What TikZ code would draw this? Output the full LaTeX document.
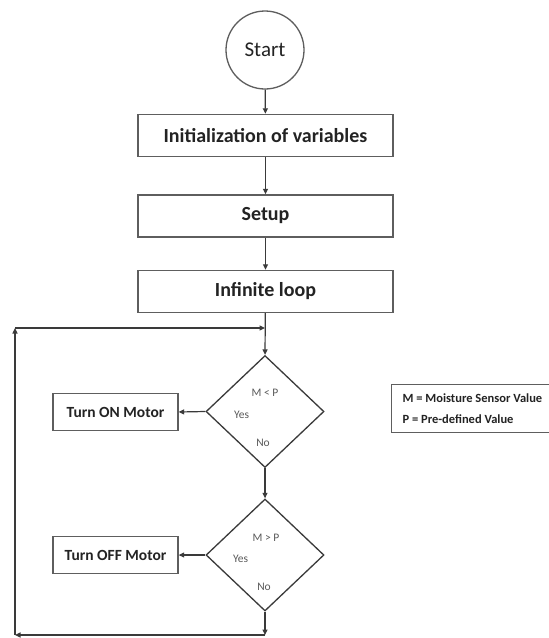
\documentclass[tikz,border=0pt]{standalone}
\usepackage{fontspec}
\setmainfont{Carlito}
\usetikzlibrary{shapes.geometric,arrows.meta,calc}

\definecolor{ink}{HTML}{232323}
\definecolor{soft}{HTML}{5A5A5A}
\definecolor{linegray}{HTML}{3A3A3A}
\definecolor{boxgray}{HTML}{5E5E5E}

\begin{document}
\begin{tikzpicture}[x=1pt,y=-1pt,
  line/.style={draw=linegray, line width=1.2pt},
  arr/.style={line, -{Triangle[length=5.5pt,width=5pt]}},
  startnode/.style={circle, draw=boxgray, line width=1.3pt, minimum size=78pt,
    inner sep=0pt, font=\fontsize{21}{24}\selectfont, text=ink},
  stepbox/.style={rectangle, draw=boxgray, line width=1.4pt, minimum width=255pt,
    minimum height=42pt, inner sep=0pt, font=\fontsize{20}{24}\selectfont\bfseries, text=ink},
  motorbox/.style={rectangle, draw=boxgray, line width=1.3pt, minimum width=125pt,
    minimum height=37pt, inner sep=0pt, font=\fontsize{15.5}{18}\selectfont\bfseries, text=ink},
  decide/.style={diamond, draw=linegray, line width=1.3pt, minimum width=118pt,
    minimum height=112pt, inner sep=0pt},
  lbl/.style={font=\fontsize{11.5}{13}\selectfont, text=soft, inner sep=0pt},
  keybox/.style={rectangle, draw=boxgray, line width=1.2pt, align=left,
    inner xsep=11pt, inner ysep=6pt, minimum height=48pt,
    font=\fontsize{12.5}{21}\selectfont\bfseries, text=ink}
]
\useasboundingbox (0,0) rectangle (549,638);
\fill[white] (0,0) rectangle (549,638);

% main column
\node[startnode] (start) at (265,50) {Start};
\node[stepbox] (init) at (265.5,135.5) {Initialization of variables};
\node[stepbox] (setup) at (265.5,216) {Setup};
\node[stepbox] (loop) at (265.5,291.5) {Infinite loop};

% decisions
\node[decide] (d1) at (265,411.5) {};
\node[decide] (d2) at (265,555) {};

\node[lbl] at ($(d1)+(0,-18.5)$) {M < P};
\node[lbl] at ($(d1)+(-23.5,3.5)$) {Yes};
\node[lbl] at ($(d1)+(-2,31.5)$) {No};

\node[lbl] at ($(d2)+(1,-17)$) {M > P};
\node[lbl] at ($(d2)+(-24.5,4)$) {Yes};
\node[lbl] at ($(d2)+(-1,32)$) {No};

% actions
\node[motorbox] (on) at (115.5,412) {Turn ON Motor};
\node[motorbox] (off) at (115.5,555) {Turn OFF Motor};

% key
\node[keybox, anchor=west] (key) at (391,408.5) {M = Moisture Sensor Value\\P = Pre-defined Value};

% loop-back path
\coordinate (jn) at (265,328);
\coordinate (bot) at (265,635);
\coordinate (bl) at (15,635);
\coordinate (tl) at (15,328);

% connectors
\draw[arr] (start) -- (init);
\draw[arr] (init) -- (setup);
\draw[arr] (setup) -- (loop);
\draw[arr] (loop) -- (d1.north);
\draw[arr] (d1.west) -- (on.east);
\draw[arr] (d1.south) -- (d2.north);
\draw[arr] (d2.west) -- (off.east);
\draw[arr] (d2.south) -- (bot);
\draw[arr] (bot) -- (bl);
\draw[arr] (bl) -- (tl);
\draw[arr] (tl) -- (jn);
\end{tikzpicture}
\end{document}
